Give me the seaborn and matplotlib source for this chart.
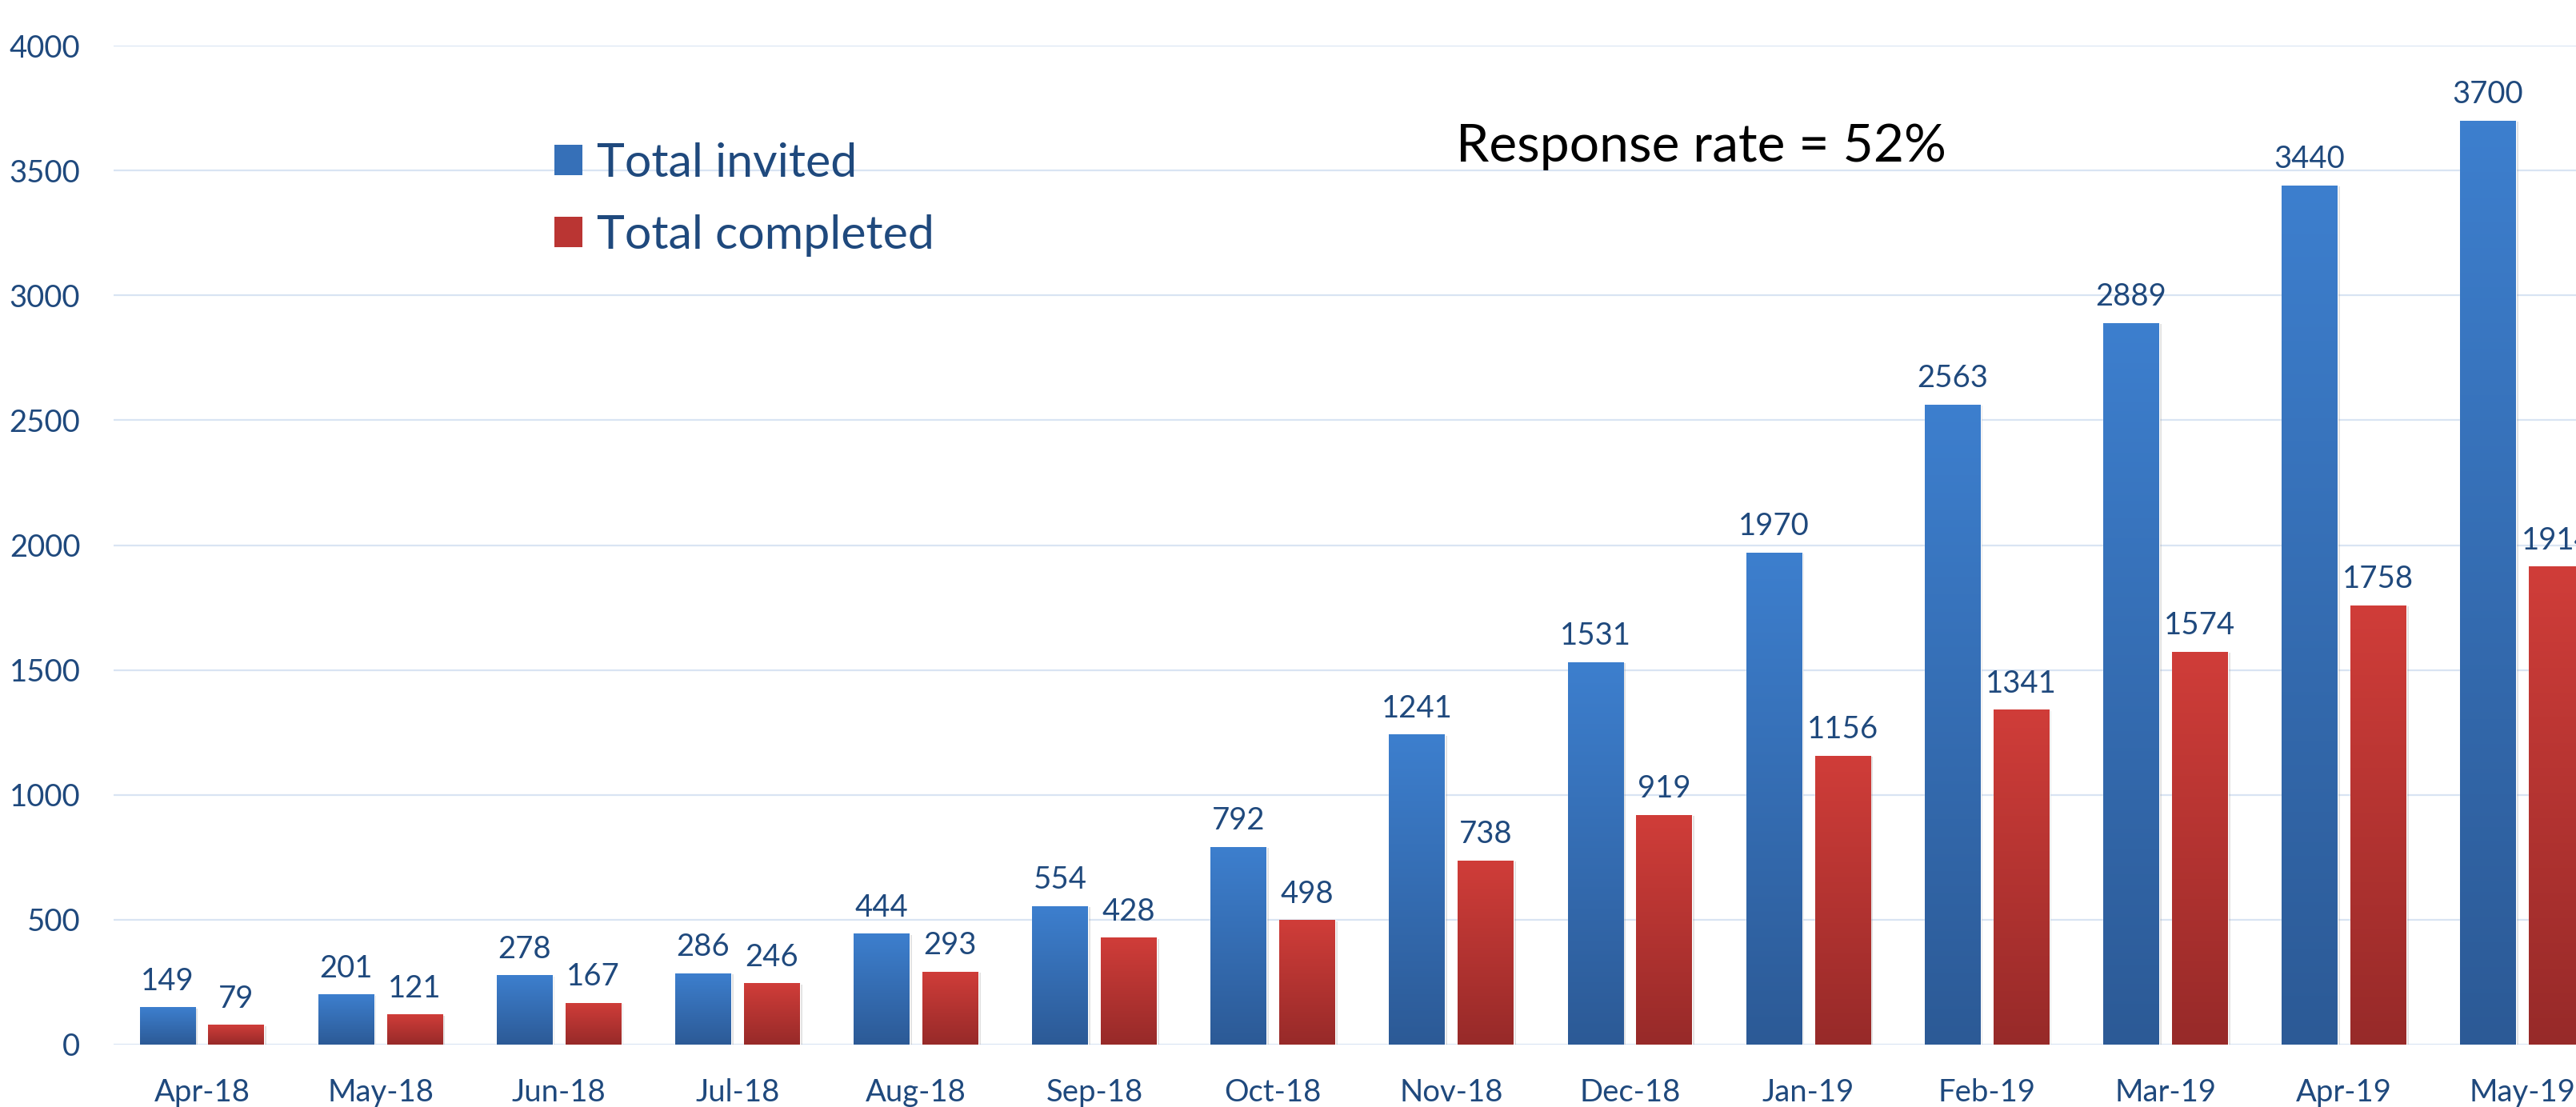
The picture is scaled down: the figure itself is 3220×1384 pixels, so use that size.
import numpy as np
import pandas as pd
import matplotlib
matplotlib.use("Agg")
import matplotlib.pyplot as plt
import seaborn as sns
from matplotlib.colors import LinearSegmentedColormap
from matplotlib.patches import Patch
import matplotlib.patheffects as pe

# ---- data ----
months = ["Apr-18", "May-18", "Jun-18", "Jul-18", "Aug-18", "Sep-18", "Oct-18",
          "Nov-18", "Dec-18", "Jan-19", "Feb-19", "Mar-19", "Apr-19", "May-19"]
total_invited = [149, 201, 278, 286, 444, 554, 792, 1241, 1531, 1970, 2563, 2889, 3440, 3700]
total_completed = [79, 121, 167, 246, 293, 428, 498, 738, 919, 1156, 1341, 1574, 1758, 1914]
series_names = ["Total invited", "Total completed"]
annotation = "Response rate = 52%"

df = pd.DataFrame({
    "month": months * 2,
    "value": total_invited + total_completed,
    "series": [series_names[0]] * len(months) + [series_names[1]] * len(months),
})

# ---- style ----
sns.set_theme(style="white")
plt.rcParams["font.family"] = ["Lato", "DejaVu Sans"]
TEXT = "#1F497D"
GRID = "#D9E4F3"
blue_top, blue_bot = "#3D7FCE", "#2C5A96"
red_top, red_bot = "#D03D39", "#972A29"

W, H = 3220, 1384
fig = plt.figure(figsize=(W / 100, H / 100), dpi=100)
left, right = 142 / W, 1.0
bottom, top = (H - 1306) / H, (H - 57) / H
ax = fig.add_axes([left, bottom, right - left, top - bottom])

sns.barplot(data=df, x="month", y="value", hue="series",
            palette=[blue_top, red_top], width=0.77, gap=0.186,
            legend=False, ax=ax, saturation=1)

xlim = (-0.495, 13.3)
ylim = (0, 4000)

# gradient fills clipped to bars
grad = np.linspace(0, 1, 256).reshape(-1, 1)
for container, (ct, cb) in zip(ax.containers, [(blue_top, blue_bot), (red_top, red_bot)]):
    cmap = LinearSegmentedColormap.from_list("g", [cb, ct])
    for bar in container:
        bar.set_path_effects([pe.SimplePatchShadow(offset=(2, -1), shadow_rgbFace="#888888", alpha=0.25),
                              pe.Normal()])
        x0, y0 = bar.get_x(), bar.get_y()
        w, h = bar.get_width(), bar.get_height()
        im = ax.imshow(grad, extent=[x0, x0 + w, y0, y0 + h], origin="lower",
                       aspect="auto", cmap=cmap, zorder=bar.get_zorder() + 0.1,
                       interpolation="bilinear")
        im.set_clip_path(bar)
    ax.bar_label(container, padding=10.5, fontsize=27.5, color=TEXT)

ax.set_xlim(*xlim)
ax.set_ylim(*ylim)
ax.set_yticks(np.arange(0, 4001, 500))
ax.yaxis.grid(True, color=GRID, linewidth=1.6)
ax.xaxis.grid(False)
ax.set_axisbelow(True)
for s in ax.spines.values():
    s.set_visible(False)
ax.set_xlabel("")
ax.set_ylabel("")
ax.tick_params(axis="x", length=0, pad=30, labelsize=27.5, labelcolor=TEXT)
ax.tick_params(axis="y", length=0, pad=30, labelsize=27.5, labelcolor=TEXT)

# legend
handles = [Patch(facecolor="#3670B8", edgecolor="none"),
           Patch(facecolor="#BA3533", edgecolor="none")]
leg = ax.legend(handles, series_names, loc="upper left",
                bbox_to_anchor=(693 / W, 1 - 178 / H), bbox_transform=fig.transFigure,
                frameon=False, fontsize=42.5, handlelength=0.6, handleheight=0.6,
                handletextpad=0.3, labelspacing=0.62, borderpad=0, borderaxespad=0)
for t in leg.get_texts():
    t.set_color(TEXT)

fig.text(1820 / W, 1 - 202 / H, annotation, fontsize=47.5, color="black",
         ha="left", va="baseline")

fig.savefig("out.png", dpi=100)
